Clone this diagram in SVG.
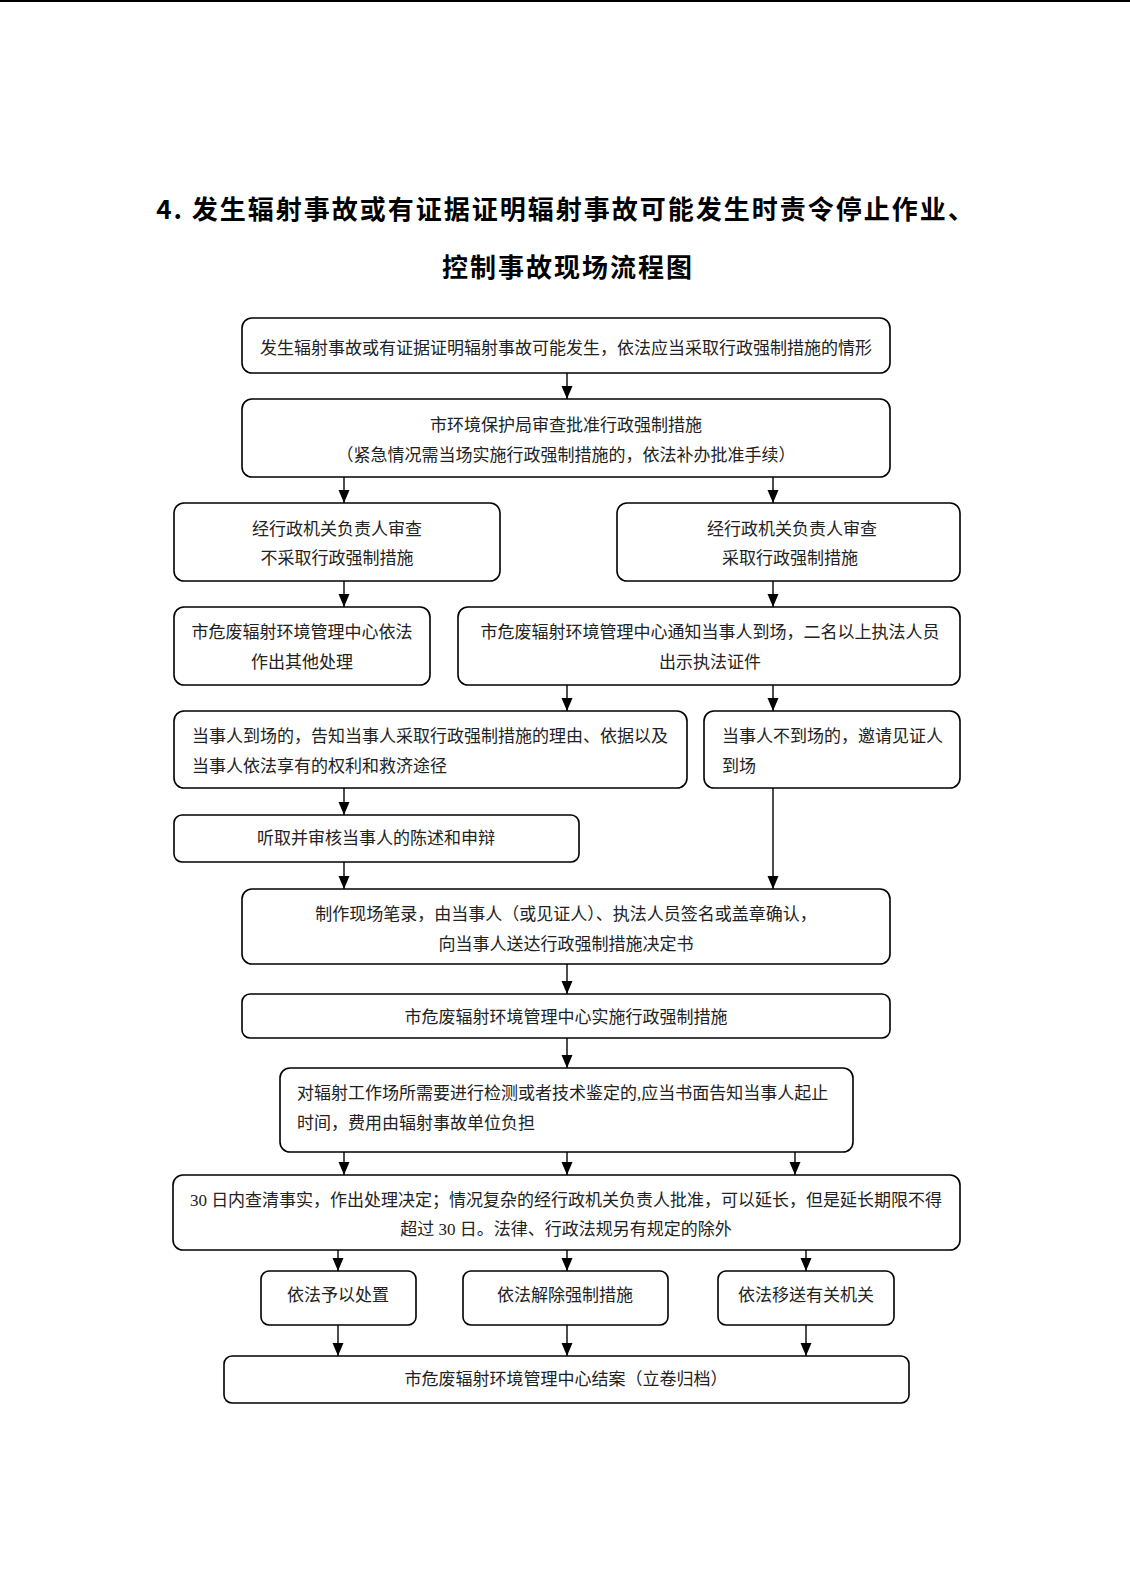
<svg xmlns="http://www.w3.org/2000/svg" width="1130" height="1583" viewBox="0 0 1130 1583">
<style>
.box{fill:#fff;stroke:#000;stroke-width:1.6}
.t{font-family:"Liberation Serif","Noto Sans CJK SC",serif;font-size:17px;fill:#222}
.c{text-anchor:middle}
.title{font-family:"Noto Sans CJK SC",sans-serif;font-size:26px;font-weight:bold;fill:#000;text-anchor:middle;letter-spacing:2px}
.ln{stroke:#000;stroke-width:1.4;fill:none;marker-end:url(#ah)}
</style>
<defs>
<marker id="ah" markerUnits="userSpaceOnUse" markerWidth="14" markerHeight="12" refX="13" refY="6" orient="auto" viewBox="0 0 14 12">
<path d="M0,0.5 L13,6 L0,11.5 Z" fill="#000"/>
</marker>
</defs>
<rect width="1130" height="1583" fill="#fff"/>
<line x1="0" y1="1" x2="1130" y2="1" stroke="#000" stroke-width="2"/>
<text class="title" x="566" y="219">4. 发生辐射事故或有证据证明辐射事故可能发生时责令停止作业、</text>
<text class="title" x="568" y="277">控制事故现场流程图</text>

<g id="n1"><rect class="box" x="242" y="318" width="648" height="55" rx="10"/><text class="t c" x="566" y="354">发生辐射事故或有证据证明辐射事故可能发生，依法应当采取行政强制措施的情形</text></g>
<g id="n2"><rect class="box" x="242" y="399" width="648" height="78" rx="10"/><text class="t c" x="566" y="431">市环境保护局审查批准行政强制措施</text><text class="t c" x="566" y="461">（紧急情况需当场实施行政强制措施的，依法补办批准手续）</text></g>
<g id="n3"><rect class="box" x="174" y="503" width="326" height="78" rx="10"/><text class="t c" x="337" y="535">经行政机关负责人审查</text><text class="t c" x="337" y="564">不采取行政强制措施</text></g>
<g id="n4"><rect class="box" x="617" y="503" width="343" height="78" rx="10"/><text class="t c" x="792" y="535">经行政机关负责人审查</text><text class="t c" x="790" y="564">采取行政强制措施</text></g>
<g id="n5"><rect class="box" x="174" y="607" width="256" height="78" rx="10"/><text class="t c" x="302" y="638">市危废辐射环境管理中心依法</text><text class="t c" x="302" y="668">作出其他处理</text></g>
<g id="n6"><rect class="box" x="458" y="607" width="502" height="78" rx="10"/><text class="t c" x="710" y="638">市危废辐射环境管理中心通知当事人到场，二名以上执法人员</text><text class="t c" x="710" y="668">出示执法证件</text></g>
<g id="n7"><rect class="box" x="174" y="711" width="513" height="77" rx="10"/><text class="t" x="192" y="742">当事人到场的，告知当事人采取行政强制措施的理由、依据以及</text><text class="t" x="192" y="772">当事人依法享有的权利和救济途径</text></g>
<g id="n8"><rect class="box" x="704" y="711" width="256" height="77" rx="10"/><text class="t" x="722" y="742">当事人不到场的，邀请见证人</text><text class="t" x="722" y="772">到场</text></g>
<g id="n9"><rect class="box" x="174" y="815" width="405" height="47" rx="8"/><text class="t c" x="376" y="844">听取并审核当事人的陈述和申辩</text></g>
<g id="n10"><rect class="box" x="242" y="889" width="648" height="75" rx="10"/><text class="t c" x="566" y="920">制作现场笔录，由当事人（或见证人）、执法人员签名或盖章确认，</text><text class="t c" x="566" y="950">向当事人送达行政强制措施决定书</text></g>
<g id="n11"><rect class="box" x="242" y="994" width="648" height="44" rx="8"/><text class="t c" x="566" y="1023">市危废辐射环境管理中心实施行政强制措施</text></g>
<g id="n12"><rect class="box" x="280" y="1068" width="573" height="84" rx="10"/><text class="t" x="297" y="1099">对辐射工作场所需要进行检测或者技术鉴定的,应当书面告知当事人起止</text><text class="t" x="297" y="1129">时间，费用由辐射事故单位负担</text></g>
<g id="n13"><rect class="box" x="173" y="1175" width="787" height="75" rx="10"/><text class="t c" x="566" y="1206">30 日内查清事实，作出处理决定；情况复杂的经行政机关负责人批准，可以延长，但是延长期限不得</text><text class="t c" x="566" y="1235">超过 30 日。法律、行政法规另有规定的除外</text></g>
<g id="n14"><rect class="box" x="261" y="1271" width="155" height="54" rx="8"/><text class="t c" x="338" y="1301">依法予以处置</text></g>
<g id="n15"><rect class="box" x="463" y="1271" width="205" height="54" rx="8"/><text class="t c" x="565" y="1301">依法解除强制措施</text></g>
<g id="n16"><rect class="box" x="718" y="1271" width="176" height="54" rx="8"/><text class="t c" x="806" y="1301">依法移送有关机关</text></g>
<g id="n17"><rect class="box" x="224" y="1356" width="685" height="47" rx="8"/><text class="t c" x="566" y="1385">市危废辐射环境管理中心结案（立卷归档）</text></g>

<g id="connectors">
<path class="ln" d="M567,373 V399"/>
<path class="ln" d="M344,477 V503"/>
<path class="ln" d="M773,477 V503"/>
<path class="ln" d="M344,581 V607"/>
<path class="ln" d="M773,581 V607"/>
<path class="ln" d="M567,685 V711"/>
<path class="ln" d="M773,685 V711"/>
<path class="ln" d="M344,788 V815"/>
<path class="ln" d="M344,862 V889"/>
<path class="ln" d="M773,788 V889"/>
<path class="ln" d="M567,964 V994"/>
<path class="ln" d="M567,1038 V1068"/>
<path class="ln" d="M344,1152 V1175"/>
<path class="ln" d="M567,1152 V1175"/>
<path class="ln" d="M795,1152 V1175"/>
<path class="ln" d="M338,1250 V1271"/>
<path class="ln" d="M567,1250 V1271"/>
<path class="ln" d="M806,1250 V1271"/>
<path class="ln" d="M338,1325 V1356"/>
<path class="ln" d="M567,1325 V1356"/>
<path class="ln" d="M806,1325 V1356"/>
</g>
</svg>
